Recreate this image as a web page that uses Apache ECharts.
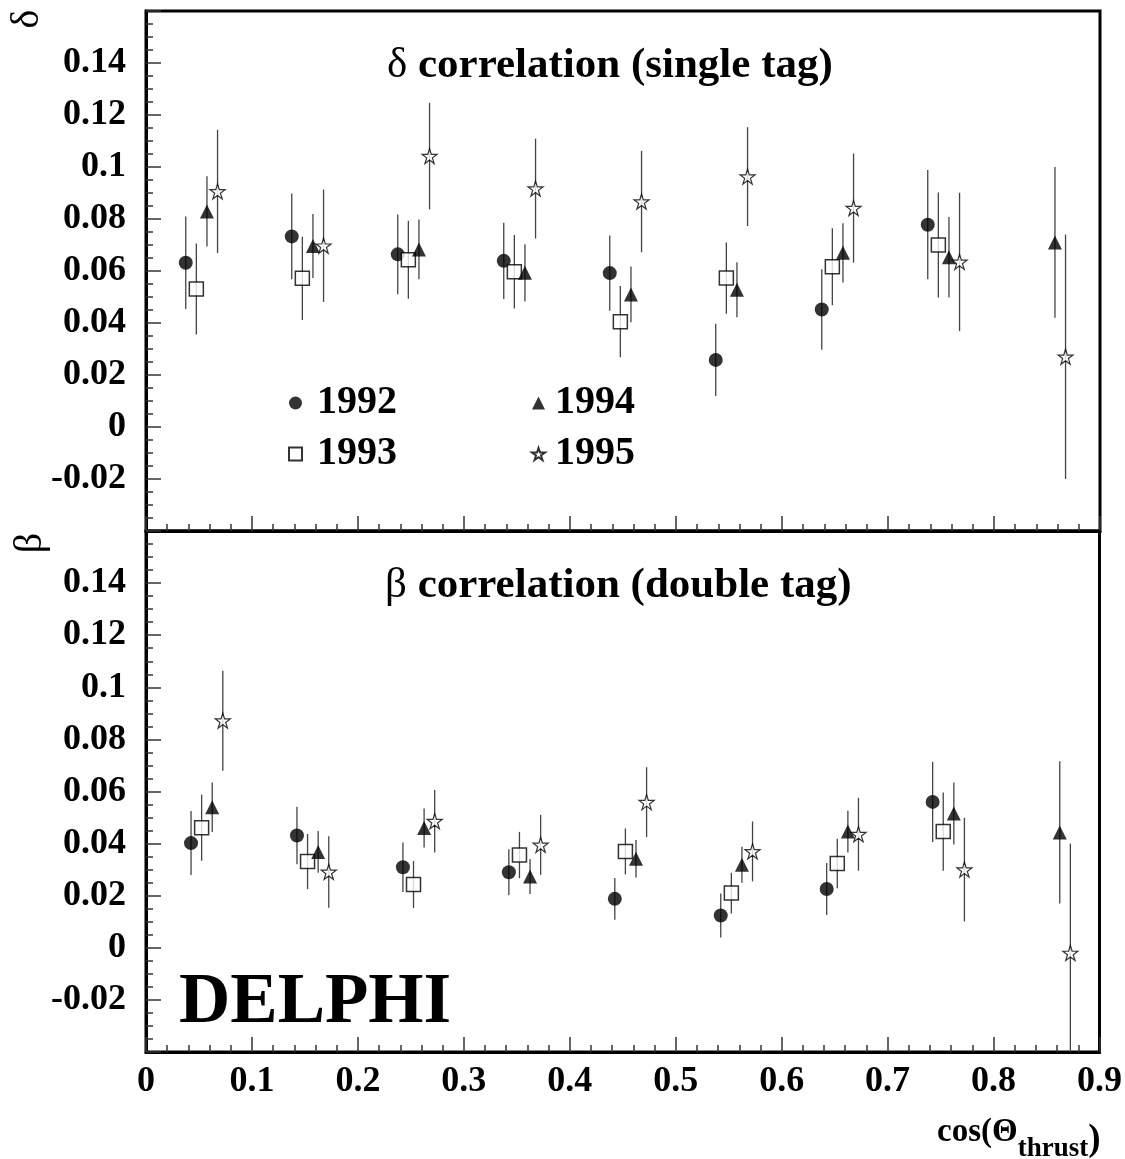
<!DOCTYPE html>
<html>
<head>
<meta charset="utf-8">
<script src="https://cdn.jsdelivr.net/npm/echarts@6/dist/echarts.min.js"></script>
<style>
html,body{margin:0;padding:0;background:#fff;}
#chart{width:1125px;height:1159px;}
</style>
</head>
<body>
<div id="chart"></div>
<script>
// ---------- data ----------
const years = ['1992', '1993', '1994', '1995'];
const xTicks = [0, 0.1, 0.2, 0.3, 0.4, 0.5, 0.6, 0.7, 0.8, 0.9];

// delta correlation (single tag) – top panel
const deltaX1992 = [0.0375, 0.1375, 0.2375, 0.3375, 0.4375, 0.5375, 0.6375, 0.7375];
const deltaY1992 = [0.0632, 0.0733, 0.0664, 0.0639, 0.0592, 0.0258, 0.0452, 0.0778];
const deltaE1992 = [0.0178, 0.0165, 0.0153, 0.0147, 0.0145, 0.0139, 0.0155, 0.0210];

const deltaX1993 = [0.0475, 0.1475, 0.2475, 0.3475, 0.4475, 0.5475, 0.6475, 0.7475];
const deltaY1993 = [0.0531, 0.0572, 0.0643, 0.0597, 0.0405, 0.0573, 0.0616, 0.0700];
const deltaE1993 = [0.0175, 0.0160, 0.0150, 0.0141, 0.0137, 0.0137, 0.0148, 0.0202];

const deltaX1994 = [0.0575, 0.1575, 0.2575, 0.3575, 0.4575, 0.5575, 0.6575, 0.7575, 0.8575];
const deltaY1994 = [0.0829, 0.0696, 0.0683, 0.0593, 0.0510, 0.0528, 0.0670, 0.0653, 0.0710];
const deltaE1994 = [0.0135, 0.0123, 0.0115, 0.0110, 0.0107, 0.0106, 0.0114, 0.0155, 0.0290];

const deltaX1995 = [0.0675, 0.1675, 0.2675, 0.3675, 0.4675, 0.5675, 0.6675, 0.7675, 0.8675];
const deltaY1995 = [0.0906, 0.0697, 0.1042, 0.0917, 0.0867, 0.0963, 0.0842, 0.0635, 0.0270];
const deltaE1995 = [0.0237, 0.0216, 0.0205, 0.0192, 0.0195, 0.0190, 0.0210, 0.0266, 0.0470];

// beta correlation (double tag) – bottom panel
const betaX1992 = [0.0425, 0.1425, 0.2425, 0.3425, 0.4425, 0.5425, 0.6425, 0.7425];
const betaY1992 = [0.0402, 0.0431, 0.0309, 0.0290, 0.0188, 0.0124, 0.0226, 0.0560];
const betaE1992 = [0.0123, 0.0110, 0.0095, 0.0088, 0.0080, 0.0084, 0.0100, 0.0154];

const betaX1993 = [0.0525, 0.1525, 0.2525, 0.3525, 0.4525, 0.5525, 0.6525, 0.7525];
const betaY1993 = [0.0461, 0.0331, 0.0243, 0.0356, 0.0370, 0.0210, 0.0324, 0.0446];
const betaE1993 = [0.0127, 0.0106, 0.0090, 0.0089, 0.0088, 0.0078, 0.0095, 0.0150];

const betaX1994 = [0.0625, 0.1625, 0.2625, 0.3625, 0.4625, 0.5625, 0.6625, 0.7625, 0.8625];
const betaY1994 = [0.0540, 0.0368, 0.0460, 0.0274, 0.0342, 0.0319, 0.0446, 0.0516, 0.0443];
const betaE1994 = [0.0095, 0.0080, 0.0075, 0.0067, 0.0072, 0.0069, 0.0080, 0.0119, 0.0273];

const betaX1995 = [0.0725, 0.1725, 0.2725, 0.3725, 0.4725, 0.5725, 0.6725, 0.7725, 0.8725];
const betaY1995 = [0.0872, 0.0291, 0.0486, 0.0395, 0.0559, 0.0370, 0.0436, 0.0300, -0.0020];
const betaE1995 = [0.0192, 0.0137, 0.0120, 0.0115, 0.0134, 0.0115, 0.0140, 0.0199, 0.0420];

// ---------- chart ----------
const SERIF = "'Liberation Serif', 'DejaVu Serif', 'Times New Roman', serif";
const STAR = 'path://M50,2 L61.2,36.3 L97.5,36.3 L68.2,57.5 L79.4,91.8 L50,70.6 L20.6,91.8 L31.8,57.5 L2.5,36.3 L38.8,36.3 Z';

const markerStyle = {
  '1992': {symbol: 'circle', size: 14, itemStyle: {color: '#000', borderColor: '#000', borderWidth: 0}},
  '1993': {symbol: 'rect', size: 14, itemStyle: {color: '#fff', borderColor: '#000', borderWidth: 1.5}},
  '1994': {symbol: 'triangle', size: 14, itemStyle: {color: '#000', borderColor: '#000', borderWidth: 0}},
  '1995': {symbol: STAR, size: 15, itemStyle: {color: '#fff', borderColor: '#000', borderWidth: 1.2}}
};

const panels = [
  {X: [deltaX1992, deltaX1993, deltaX1994, deltaX1995],
   Y: [deltaY1992, deltaY1993, deltaY1994, deltaY1995],
   E: [deltaE1992, deltaE1993, deltaE1994, deltaE1995]},
  {X: [betaX1992, betaX1993, betaX1994, betaX1995],
   Y: [betaY1992, betaY1993, betaY1994, betaY1995],
   E: [betaE1992, betaE1993, betaE1994, betaE1995]}
];

function errRender(params, api) {
  const x = api.value(0), y = api.value(1), e = api.value(2);
  const p1 = api.coord([x, y + e]);
  const p2 = api.coord([x, y - e]);
  const cs = params.coordSys;
  const clampY = v => Math.max(cs.y, Math.min(cs.y + cs.height, v));
  return {
    type: 'line',
    shape: {x1: p1[0], y1: clampY(p1[1]), x2: p2[0], y2: clampY(p2[1])},
    style: {stroke: '#444', lineWidth: 1.3}
  };
}

const series = [];
panels.forEach((pn, pi) => {
  years.forEach((yr, k) => {
    const rows = pn.X[k].map((x, i) => [x, pn.Y[k][i], pn.E[k][i]]);
    series.push({
      name: yr + ' err', type: 'custom', xAxisIndex: pi, yAxisIndex: pi,
      renderItem: errRender, data: rows, encode: {x: 0, y: 1}, z: 2, silent: true
    });
  });
  years.forEach((yr, k) => {
    const rows = pn.X[k].map((x, i) => [x, pn.Y[k][i]]);
    const ms = markerStyle[yr];
    series.push({
      name: yr, type: 'scatter', xAxisIndex: pi, yAxisIndex: pi,
      symbol: ms.symbol, symbolSize: ms.size, itemStyle: ms.itemStyle,
      data: rows, z: 5, silent: true
    });
  });
});

const gridLeft = 146, gridW = 954;
const grids = [
  {left: gridLeft, top: 11, width: gridW, height: 520, show: true, borderColor: '#000', borderWidth: 3, backgroundColor: 'transparent'},
  {left: gridLeft, top: 531, width: gridW, height: 521, show: true, borderColor: '#000', borderWidth: 3, backgroundColor: 'transparent'}
];

function xAxisCfg(idx, showLabels) {
  return {
    gridIndex: idx, type: 'value', min: xTicks[0], max: xTicks[xTicks.length - 1], interval: 0.1,
    axisLine: {show: true, onZero: false, lineStyle: {color: '#000', width: 3}},
    axisTick: {show: true, inside: true, length: 15, lineStyle: {color: '#333', width: 1.5}},
    minorTick: {show: true, splitNumber: 5, length: 7, lineStyle: {color: '#333', width: 1.5}},
    splitLine: {show: false},
    axisLabel: {
      show: showLabels, margin: 12, color: '#000', fontFamily: SERIF, fontWeight: 'bold', fontSize: 36,
      formatter: v => String(+v.toFixed(1))
    }
  };
}
function yAxisCfg(idx) {
  return {
    gridIndex: idx, type: 'value', min: -0.04, max: 0.16, interval: 0.02,
    axisLine: {show: true, onZero: false, lineStyle: {color: '#000', width: 3}},
    axisTick: {show: true, inside: true, length: 15, lineStyle: {color: '#333', width: 1.5}},
    minorTick: {show: true, splitNumber: 4, length: 7, lineStyle: {color: '#333', width: 1.5}},
    splitLine: {show: false},
    axisLabel: {
      margin: 20, color: '#000', fontFamily: SERIF, fontWeight: 'bold', fontSize: 36,
      formatter: v => (v > 0.15 || v < -0.03) ? '' : String(+v.toFixed(2))
    }
  };
}

const legendText = {color: '#000', fontFamily: SERIF, fontWeight: 'bold', fontSize: 40, lineHeight: 40};

const option = {
  backgroundColor: '#fff',
  animation: false,
  grid: grids,
  xAxis: [xAxisCfg(0, false), xAxisCfg(1, true)],
  yAxis: [yAxisCfg(0), yAxisCfg(1)],
  legend: [
    {data: ['1992', '1993'], orient: 'vertical', left: 283, top: 378, itemWidth: 13, itemHeight: 13,
     itemGap: 11, selectedMode: false, textStyle: Object.assign({padding: [0, 0, 0, 10]}, legendText)},
    {data: ['1994', '1995'], orient: 'vertical', left: 526, top: 378, itemWidth: 13, itemHeight: 13,
     itemGap: 11, selectedMode: false, textStyle: Object.assign({padding: [0, 0, 0, 5]}, legendText)}
  ],
  graphic: [
    {type: 'text', x: 27, y: 19, rotation: Math.PI / 2,
     style: {text: 'δ', fontFamily: SERIF, fontSize: 40, fill: '#000', textAlign: 'center', textVerticalAlign: 'middle'}},
    {type: 'text', x: 30, y: 543, rotation: Math.PI / 2,
     style: {text: 'β', fontFamily: SERIF, fontSize: 40, fill: '#000', textAlign: 'center', textVerticalAlign: 'middle'}},
    {type: 'text', x: 387, y: 66,
     style: {text: '{g|δ} correlation (single tag)', fontFamily: SERIF, fontWeight: 'bold', fontSize: 43, fill: '#000',
             textAlign: 'left', textVerticalAlign: 'middle',
             rich: {g: {fontFamily: SERIF, fontWeight: 'normal', fontSize: 43, fill: '#000'}}}},
    {type: 'text', x: 385, y: 586,
     style: {text: '{g|β} correlation (double tag)', fontFamily: SERIF, fontWeight: 'bold', fontSize: 43, fill: '#000',
             textAlign: 'left', textVerticalAlign: 'middle',
             rich: {g: {fontFamily: SERIF, fontWeight: 'normal', fontSize: 43, fill: '#000'}}}},
    {type: 'text', x: 179, y: 1004,
     style: {text: 'DELPHI', fontFamily: SERIF, fontWeight: 'bold', fontSize: 71, fill: '#000',
             textAlign: 'left', textVerticalAlign: 'middle'}},
    {type: 'text', x: 937, y: 1116,
     style: {text: '{a|cos(Θ}{b|thrust}{c|)}', fill: '#000', textAlign: 'left', textVerticalAlign: 'top',
             rich: {
               a: {fontFamily: SERIF, fontWeight: 'bold', fontSize: 33, lineHeight: 32, verticalAlign: 'top', fill: '#000'},
               b: {fontFamily: SERIF, fontWeight: 'bold', fontSize: 27, lineHeight: 27, verticalAlign: 'top', padding: [20, 0, 0, 0], fill: '#000'},
               c: {fontFamily: SERIF, fontWeight: 'bold', fontSize: 37, lineHeight: 36, verticalAlign: 'top', padding: [6, 0, 0, 0], fill: '#000'}
             }}}
  ],
  series: series
};

const chart = echarts.init(document.getElementById('chart'), null, {renderer: 'canvas'});
chart.setOption(option);
</script>
</body>
</html>
